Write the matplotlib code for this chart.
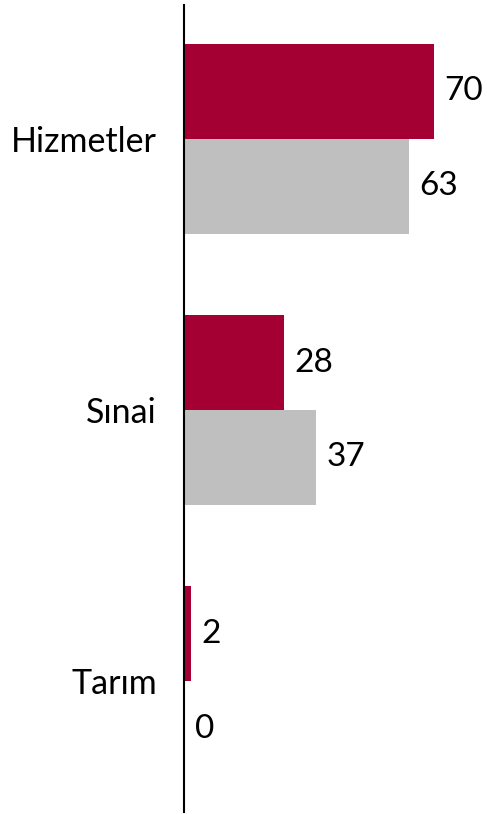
import numpy as np
import matplotlib.pyplot as plt

plt.rcParams['font.family'] = ['Lato', 'DejaVu Sans']

categories = ['Hizmetler', 'Sınai', 'Tarım']
series_a = [70, 28, 2]
series_b = [63, 37, 0]

red = '#A50034'
grey = '#BFBFBF'

fig = plt.figure(figsize=(4.87, 8.14), dpi=100)
ax = fig.add_axes([184 / 487, 2 / 814, 1 - 184 / 487, 807 / 814])

y = np.arange(len(categories))
h = 0.35
bars_a = ax.barh(y - h / 2, series_a, height=h, color=red)
bars_b = ax.barh(y + h / 2, series_b, height=h, color=grey)

# value labels right of each bar
for bars in (bars_a, bars_b):
    for b in bars:
        ax.text(b.get_width() + 3.0, b.get_y() + b.get_height() / 2, str(int(b.get_width())),
                va='center', ha='left', fontsize=24, color='black')

ax.set_xlim(0, 84.9)
ax.set_ylim(2.483, -0.494)
ax.set_yticks(y)
ax.set_yticklabels(categories, fontsize=24.5)
ax.tick_params(axis='y', length=0, pad=19.5)
ax.set_xticks([])
for s in ['top', 'right', 'bottom']:
    ax.spines[s].set_visible(False)
ax.spines['left'].set_linewidth(1.5)

fig.savefig('out.png', dpi=100)
